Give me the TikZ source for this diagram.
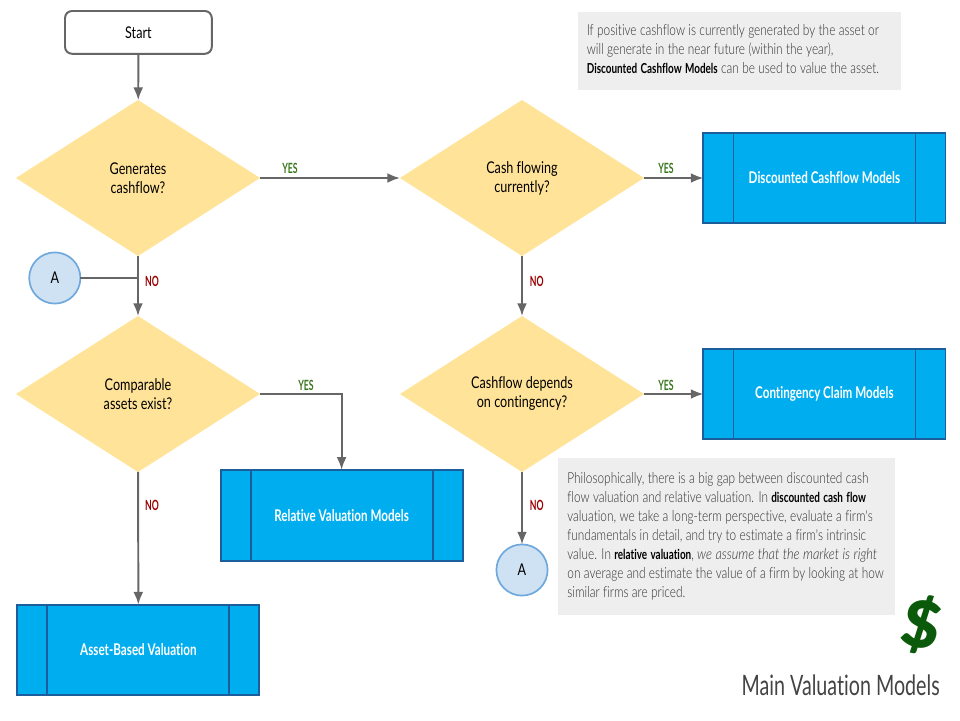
\documentclass[tikz,border=0pt]{standalone}
\usepackage{fontspec}
\setmainfont[FakeStretch=0.78,Ligatures=NoCommon,BoldFeatures={FakeStretch=0.72}]{Lato}
\newfontfamily\notefont[FakeStretch=0.78,Ligatures=NoCommon,ItalicFeatures={FakeStretch=0.84}]{Lato Light}
\newfontfamily\tagfont[FakeStretch=0.62]{Lato Bold}
\newfontfamily\titlefont[FakeStretch=0.70,Ligatures=NoCommon]{Lato}
\newfontfamily\dollarfont{Lato Black}
\usetikzlibrary{shapes.geometric}
\usetikzlibrary{arrows.meta}
\definecolor{mygold}{HTML}{FFE398}
\definecolor{mycyan}{HTML}{00AEEF}
\definecolor{myedge}{HTML}{1B5E9B}
\definecolor{mypale}{HTML}{CFE2F3}
\definecolor{myring}{HTML}{6FA8DC}
\definecolor{mygrey}{HTML}{666666}
\definecolor{mynote}{HTML}{EEEEEE}
\definecolor{myink}{HTML}{434343}
\definecolor{mytext}{HTML}{303030}
\definecolor{myyes}{HTML}{38761D}
\definecolor{myno}{HTML}{990000}
\definecolor{mydollar}{HTML}{0B5A0B}
\newcommand{\notebold}[1]{{\normalfont\fontsize{9.8}{13.5}\selectfont\bfseries\color{black}#1}}
\newcommand{\noteblock}[2]{\makebox[#1][l]{\spaceskip 2.4pt\relax\begin{tabular}{@{}l@{}}#2\end{tabular}}}
\tikzset{
  decision/.style={diamond, fill=mygold, minimum width=6.1cm, minimum height=3.9cm,
    aspect=1.56, inner sep=0pt, outer sep=0pt, align=center, font=\fontsize{11.5}{13.5}\selectfont},
  process/.style={rectangle, draw=myedge, fill=mycyan, line width=1.3pt, minimum width=6.05cm,
    minimum height=2.27cm, inner sep=0pt, outer sep=0pt, text=white,
    font=\fontsize{11.5}{14}\selectfont\bfseries,
    path picture={
      \draw[myedge, line width=1.3pt] ([xshift=0.75cm]path picture bounding box.north west)
        -- ([xshift=0.75cm]path picture bounding box.south west);
      \draw[myedge, line width=1.3pt] ([xshift=-0.75cm]path picture bounding box.north east)
        -- ([xshift=-0.75cm]path picture bounding box.south east);
    }},
  connector/.style={circle, draw=myring, fill=mypale, line width=1.2pt, minimum size=1.28cm,
    inner sep=0pt, outer sep=0pt, font=\fontsize{11.5}{14}\selectfont},
  note/.style={rectangle, fill=mynote, text=mytext, inner xsep=0.225cm, inner ysep=0pt, outer sep=0pt,
    font=\notefont\fontsize{10.8}{13.5}\selectfont},
  yeslabel/.style={text=myyes, font=\tagfont\fontsize{10}{12}\selectfont},
  nolabel/.style={text=myno, font=\tagfont\fontsize{10}{12}\selectfont},
  flow/.style={draw=mygrey, line width=1.4pt, ->},
}
\begin{document}
\begin{tikzpicture}[>={Latex[length=9pt,width=7pt]}]

      \useasboundingbox (0,0) rectangle (24,18);

      % start
      \node [rectangle, rounded corners=5pt, draw=mygrey, fill=white, line width=1.4pt,
      minimum width=3.67cm, minimum height=1.07cm, font=\fontsize{11.5}{14}\selectfont]
      (start) at (3.46,17.19) {Start};

      % decisions
      \node [decision] (generates) at (3.45,13.55) {Generates\\cashflow?};
      \node [decision] (flowing) at (13.05,13.55) {Cash flowing\\currently?};
      \node [decision] (comparable) at (3.45,8.15) {Comparable\\assets exist?};
      \node [decision] (contingency) at (13.05,8.15) {Cashflow depends\\on contingency?};

      % models
      \node [process] (discounted) at (20.61,13.55) {Discounted Cashflow Models};
      \node [process] (claim) at (20.61,8.15) {Contingency Claim Models};
      \node [process] (relative) at (8.54,5.12) {Relative Valuation Models};
      \node [process] (asset) at (3.46,1.75) {Asset-Based Valuation};

      % off-page connectors
      \node [connector] (entry) at (1.37,11.05) {A};
      \node [connector] (exit) at (13.05,3.75) {A};

      % flows
      \draw [flow] (start) -- (generates);
      \draw [flow] (generates) -- (comparable);
      \draw [flow] (generates) -- (flowing);
      \draw [flow] (flowing) -- (discounted);
      \draw [flow] (flowing) -- (contingency);
      \draw [flow] (contingency) -- (claim);
      \draw [flow] (contingency) -- (exit);
      \draw [flow] (comparable.east) -| (relative.north);
      \draw [flow] (comparable) -- (asset);
      \draw [draw=mygrey, line width=1.4pt] (entry) -- (entry -| generates.south);

      % YES
      \node [yeslabel] (yes1) at (7.25,13.78) {YES};
      \node [yeslabel] (yes2) at (16.65,13.78) {YES};
      \node [yeslabel] (yes3) at (7.65,8.37) {YES};
      \node [yeslabel] (yes4) at (16.65,8.37) {YES};

      % NO
      \node [nolabel] (no1) at (3.80,10.97) {NO};
      \node [nolabel] (no2) at (13.42,10.97) {NO};
      \node [nolabel] (no3) at (3.80,5.37) {NO};
      \node [nolabel] (no4) at (13.42,5.37) {NO};

      % notes
      \node [note, minimum height=1.95cm]
      (note1) at (18.48,16.725) {\noteblock{7.62cm}{If positive cashflow is currently generated by the asset or\\
      will generate in the near future (within the year),\\
      \notebold{Discounted Cashflow Models} can be used to value the asset.}};

      \node [note, minimum height=3.92cm]
      (note2) at (18.17,4.59) {\noteblock{7.97cm}{Philosophically, there is a big gap between discounted cash\\
      flow valuation and relative valuation. In \notebold{discounted cash flow}\\
      valuation, we take a long-term perspective, evaluate a firm's\\
      fundamentals in detail, and try to estimate a firm's intrinsic\\
      value. In \notebold{relative valuation}, {\itshape we assume that the market is right}\\
      on average and estimate the value of a firm by looking at how\\
      similar firms are priced.}};

      % title
      \node [text=mydollar, inner sep=0pt, rotate=-12, font=\dollarfont\fontsize{46}{46}\selectfont] (dollar) at (23.03,2.38) {\$};
      \node [anchor=east, text=myink, inner sep=0pt, font=\titlefont\fontsize{20}{24}\selectfont] (title) at (23.5,0.88) {Main Valuation Models};

\end{tikzpicture}
\end{document}
